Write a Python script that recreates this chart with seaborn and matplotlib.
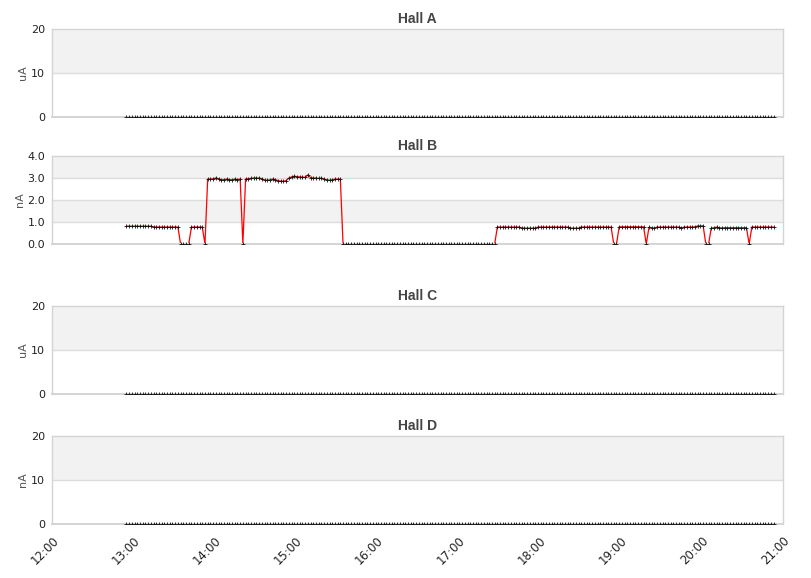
import numpy as np
import pandas as pd
import matplotlib
matplotlib.use("Agg")
import matplotlib.pyplot as plt
import matplotlib.dates as mdates
import seaborn as sns

# ─── DATA ─────────────────────────────────────────────────
# samples every 2 minutes, 12:55 -> 20:53
N_POINTS = 240
times = pd.date_range("2024-01-01 12:55", periods=N_POINTS, freq="2min")

hall_a = [0.0] * N_POINTS
hall_c = [0.0] * N_POINTS
hall_d = [0.0] * N_POINTS

hall_b = [
    0.81, 0.81, 0.81, 0.81, 0.81, 0.81, 0.81, 0.81, 0.81, 0.81,
    0.77, 0.77, 0.77, 0.77, 0.77, 0.77, 0.77, 0.77, 0.77, 0.77,
    0.00, 0.00, 0.00, 0.00,
    0.77, 0.77, 0.77, 0.77, 0.77,
    0.00,
    2.95, 2.95, 2.96, 3.00, 2.97, 2.92, 2.93, 2.95, 2.93, 2.92, 2.95, 2.93, 2.95,
    0.00,
    2.95, 2.97, 2.98, 3.00, 3.00, 3.00, 2.97, 2.90, 2.90, 2.92, 2.95, 2.93,
    2.88, 2.86, 2.85, 2.88, 3.00, 3.05, 3.08, 3.06, 3.05, 3.04, 3.03, 3.14,
    3.02, 3.00, 3.00, 2.98, 3.00, 2.95, 2.92, 2.90, 2.92, 2.95, 2.95, 2.95,
    0.00, 0.00, 0.00, 0.00, 0.00, 0.00, 0.00, 0.00, 0.00, 0.00, 0.00, 0.00,
    0.00, 0.00, 0.00, 0.00, 0.00, 0.00, 0.00, 0.00, 0.00, 0.00, 0.00, 0.00,
    0.00, 0.00, 0.00, 0.00, 0.00, 0.00, 0.00, 0.00, 0.00, 0.00, 0.00, 0.00,
    0.00, 0.00, 0.00, 0.00, 0.00, 0.00, 0.00, 0.00, 0.00, 0.00, 0.00, 0.00,
    0.00, 0.00, 0.00, 0.00, 0.00, 0.00, 0.00, 0.00, 0.00,
    0.77, 0.77, 0.77, 0.77, 0.77, 0.77, 0.77, 0.77, 0.77,
    0.72, 0.72, 0.72, 0.72, 0.72, 0.72,
    0.77, 0.77, 0.77, 0.77, 0.77, 0.77, 0.77, 0.77, 0.77, 0.77, 0.77, 0.77,
    0.72, 0.72, 0.72, 0.72,
    0.77, 0.77, 0.77, 0.77, 0.77, 0.77, 0.77, 0.77, 0.77, 0.77, 0.77, 0.77,
    0.00, 0.00,
    0.78, 0.78, 0.78, 0.78, 0.78, 0.78, 0.78, 0.78, 0.78, 0.78,
    0.00,
    0.76, 0.74, 0.72,
    0.77, 0.77, 0.77, 0.77, 0.77, 0.77, 0.77, 0.77, 0.77,
    0.71,
    0.77, 0.77, 0.77, 0.77, 0.78, 0.82, 0.82, 0.83,
    0.00, 0.00,
    0.72, 0.74, 0.77, 0.74, 0.73, 0.74, 0.74, 0.74, 0.74, 0.74, 0.74, 0.74, 0.74, 0.74,
    0.00,
    0.77, 0.77, 0.77, 0.77, 0.77, 0.77, 0.77, 0.77, 0.77,
]

panels = ["Hall A", "Hall B", "Hall C", "Hall D"]
series = [hall_a, hall_b, hall_c, hall_d]
units = ["uA", "nA", "uA", "nA"]
yticks = [[0, 10, 20], [0, 1, 2, 3, 4], [0, 10, 20], [0, 10, 20]]
ytick_fmt = ["{:.0f}", "{:.1f}", "{:.0f}", "{:.0f}"]
hour_labels = ["12:00", "13:00", "14:00", "15:00", "16:00",
               "17:00", "18:00", "19:00", "20:00", "21:00"]

# ─── STYLE ────────────────────────────────────────────────
sns.set_style("white")
plt.rcParams["font.family"] = ["DejaVu Sans"]

W, H = 811, 578
fig = plt.figure(figsize=(W / 100, H / 100), dpi=100)

# axes boxes in pixels: (top, bottom)
boxes = [(29, 117), (156, 244), (306, 394), (436, 524)]
left_px, right_px = 52, 783

x0 = pd.Timestamp("2024-01-01 12:00")
x1 = pd.Timestamp("2024-01-01 21:00")

for k, (name, vals, unit, yt, fmt) in enumerate(zip(panels, series, units, yticks, ytick_fmt)):
    top, bot = boxes[k]
    ax = fig.add_axes([left_px / W, 1 - bot / H, (right_px - left_px) / W, (bot - top) / H])

    # alternating bands between gridlines (top band grey)
    for j in range(len(yt) - 1):
        if (len(yt) - 2 - j) % 2 == 0:
            ax.axhspan(yt[j], yt[j + 1], color="#f2f2f2", zorder=0, lw=0)
    for v in yt[1:-1]:
        ax.axhline(v, color="#dcdcdc", lw=1, zorder=0.5)

    df = pd.DataFrame({"time": times, "value": vals})
    # red line under the axis frame, markers on top of it
    sns.lineplot(data=df, x="time", y="value", ax=ax, color="#ff0000", lw=0.9, zorder=2)
    sns.lineplot(data=df, x="time", y="value", ax=ax, linestyle="", marker="+",
                 markersize=2.6, markeredgecolor="#111111", markeredgewidth=0.6,
                 zorder=4)

    ax.set_xlim(x0, x1)
    ax.set_ylim(yt[0], yt[-1])
    ax.set_yticks(yt)
    ax.set_yticklabels([fmt.format(v) for v in yt], fontsize=8, color="#222222")
    ax.set_ylabel(unit, fontsize=8, color="#555555", labelpad=2)
    ax.set_xlabel("")
    ax.tick_params(length=0, pad=5)

    for s in ax.spines.values():
        s.set_color("#d4d4d4")
        s.set_linewidth(1)
        s.set_zorder(3)
    ax.spines["bottom"].set_linewidth(1.4)

    ax.set_title(name, fontsize=10, fontweight="bold", color="#444444", pad=4,
                 family=["Liberation Sans", "DejaVu Sans"])

    if k == len(panels) - 1:
        ax.set_xticks(pd.date_range(x0, x1, freq="1h"))
        ax.set_xticklabels(hour_labels, rotation=45, ha="right",
                           rotation_mode="anchor", fontsize=8.5, color="#222222")
        ax.tick_params(axis="x", pad=7)
    else:
        ax.xaxis.set_major_locator(mdates.HourLocator())
        ax.set_xticklabels([])

fig.savefig("out.png", dpi=100)
